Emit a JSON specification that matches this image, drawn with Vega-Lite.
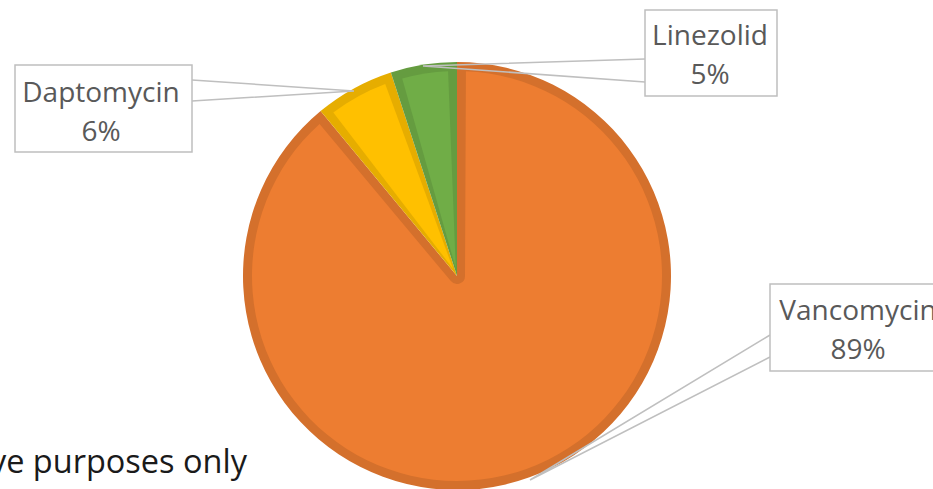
{
  "$schema": "https://vega.github.io/schema/vega-lite/v6.json",
  "width": 933,
  "height": 489,
  "padding": 0,
  "autosize": "none",
  "background": "white",
  "config": {"view": {"stroke": null}},
  "datasets": {
    "drugs": [
      {"name": "Vancomycin", "value": 89, "ord": 1},
      {"name": "Daptomycin", "value": 6, "ord": 2},
      {"name": "Linezolid", "value": 5, "ord": 3}
    ],
    "callouts": [
      {"name": "Daptomycin", "x1": 15, "x2": 192, "y1": 65, "y2": 152, "tx": 101, "ty": 102},
      {"name": "Linezolid", "x1": 645, "x2": 777, "y1": 10, "y2": 96, "tx": 710, "ty": 45},
      {"name": "Vancomycin", "x1": 770, "x2": 946, "y1": 284, "y2": 371, "tx": 858, "ty": 320}
    ],
    "leaders": [
      {"name": "Daptomycin", "seq": 1, "x": 192, "y": 80},
      {"name": "Daptomycin", "seq": 2, "x": 354, "y": 91},
      {"name": "Daptomycin", "seq": 3, "x": 192, "y": 101},
      {"name": "Linezolid", "seq": 1, "x": 645, "y": 59},
      {"name": "Linezolid", "seq": 2, "x": 423, "y": 66},
      {"name": "Linezolid", "seq": 3, "x": 645, "y": 82},
      {"name": "Vancomycin", "seq": 1, "x": 770, "y": 335},
      {"name": "Vancomycin", "seq": 2, "x": 530, "y": 480},
      {"name": "Vancomycin", "seq": 3, "x": 770, "y": 357}
    ],
    "notes": [
      {"note": "For illustrative purposes only", "nx": 247, "ny": 473}
    ]
  },
  "layer": [
    {
      "data": {"name": "notes"},
      "mark": {"type": "text", "align": "right", "baseline": "alphabetic", "font": "Open Sans", "fontSize": 32.5, "color": "#1a1a1a"},
      "encoding": {
        "x": {"field": "nx", "type": "quantitative", "scale": {"domain": [0, 933], "nice": false, "zero": false}, "axis": null},
        "y": {"field": "ny", "type": "quantitative", "scale": {"domain": [0, 489], "nice": false, "zero": false, "reverse": true}, "axis": null},
        "text": {"field": "note"}
      }
    },
    {
      "data": {"name": "drugs"},
      "mark": {"type": "arc", "outerRadius": 214},
      "encoding": {
        "x": {"datum": 457, "type": "quantitative"},
        "y": {"datum": 276, "type": "quantitative"},
        "theta": {"field": "value", "type": "quantitative", "stack": true},
        "order": {"field": "ord", "type": "quantitative"},
        "color": {"field": "name", "type": "nominal", "scale": {"domain": ["Vancomycin", "Daptomycin", "Linezolid"], "range": ["#D4702C", "#E6AD00", "#659C40"]}, "legend": null}
      }
    },
    {
      "data": {"name": "drugs"},
      "mark": {"type": "arc", "outerRadius": 205, "innerRadius": 8, "padAngle": 0.087},
      "encoding": {
        "x": {"datum": 457, "type": "quantitative"},
        "y": {"datum": 276, "type": "quantitative"},
        "theta": {"field": "value", "type": "quantitative", "stack": true},
        "order": {"field": "ord", "type": "quantitative"},
        "fill": {"field": "name", "type": "nominal", "scale": {"domain": ["Vancomycin", "Daptomycin", "Linezolid"], "range": ["#ED7D31", "#FFC000", "#70AD47"]}, "legend": null}
      }
    },
    {
      "data": {"name": "leaders"},
      "mark": {"type": "line", "color": "#BFBFBF", "strokeWidth": 1.5},
      "encoding": {
        "x": {"field": "x", "type": "quantitative"},
        "y": {"field": "y", "type": "quantitative"},
        "detail": {"field": "name"},
        "order": {"field": "seq", "type": "quantitative"}
      }
    },
    {
      "data": {"name": "callouts"},
      "mark": {"type": "rect", "fill": "white", "stroke": "#BFBFBF", "strokeWidth": 1.5},
      "encoding": {
        "x": {"field": "x1", "type": "quantitative"},
        "x2": {"field": "x2"},
        "y": {"field": "y1", "type": "quantitative"},
        "y2": {"field": "y2"}
      }
    },
    {
      "data": {"name": "callouts"},
      "transform": [
        {"lookup": "name", "from": {"data": {"name": "drugs"}, "key": "name", "fields": ["value"]}},
        {"calculate": "[datum.name, datum.value + '%']", "as": "label"}
      ],
      "mark": {"type": "text", "align": "center", "baseline": "alphabetic", "font": "Open Sans", "fontSize": 28, "lineHeight": 39, "color": "#595959"},
      "encoding": {
        "x": {"field": "tx", "type": "quantitative"},
        "y": {"field": "ty", "type": "quantitative"},
        "text": {"field": "label"}
      }
    }
  ],
  "resolve": {"scale": {"color": "independent"}}
}
